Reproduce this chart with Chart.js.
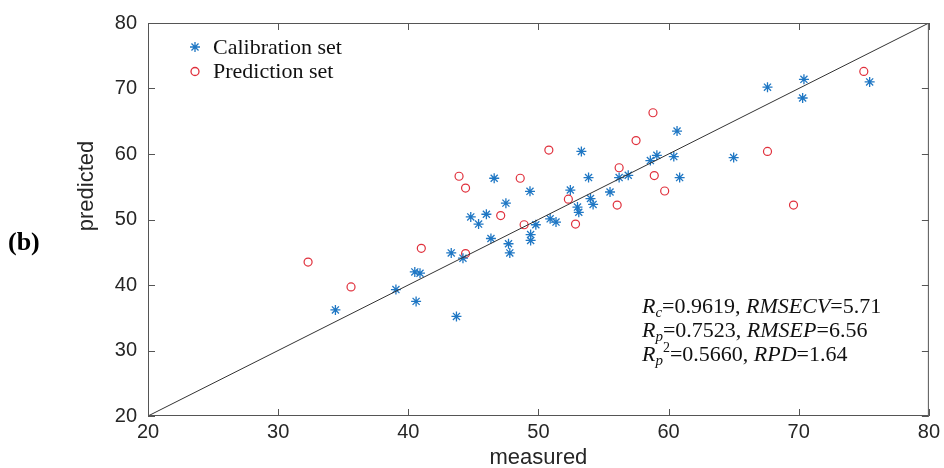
<!DOCTYPE html>
<html lang="en">
  <head>
    <meta charset="UTF-8" />
    <title>Measured vs predicted</title>
    <style>
      * {
        margin: 0;
        padding: 0;
        box-sizing: border-box;
      }
      body {
        background: white;
      }
      .chartBox {
        width: 944px;
        height: 468px;
      }
    </style>
  </head>
  <body>
    <div class="chartBox">
      <canvas id="myChart"></canvas>
    </div>

    <script src="https://cdn.jsdelivr.net/npm/chart.js"></script>

    <script>
      // calibration set (asterisks)
      const calMeasured = [
        34.4, 39.05, 40.5, 40.9, 40.6, 43.3, 43.7, 44.2, 44.8, 45.4, 46.0, 46.35,
        46.6, 47.5, 47.7, 47.8, 49.35, 49.4, 49.4, 49.8, 50.9, 51.35, 52.45, 53.0,
        53.1, 53.3, 53.85, 54.0, 54.2, 55.5, 56.2, 56.9, 58.6, 59.1, 60.4, 60.65,
        60.85, 65.0, 67.6, 70.3, 70.4, 75.45,
      ];
      const calPredicted = [
        36.2, 39.3, 42.0, 41.8, 37.5, 44.9, 35.2, 44.1, 50.4, 49.3, 50.8, 47.1,
        56.3, 52.5, 46.3, 44.9, 54.3, 47.7, 46.8, 49.2, 50.1, 49.6, 54.5, 51.9,
        51.1, 60.4, 56.4, 53.2, 52.3, 54.2, 56.4, 56.75, 59.0, 59.8, 59.6, 63.5,
        56.4, 59.45, 70.2, 68.55, 71.4, 71.0,
      ];

      // prediction set (circles)
      const predMeasured = [
        32.3, 35.6, 41.0, 43.9, 44.4, 44.4, 47.1, 48.6, 48.9, 50.8, 52.3, 52.85,
        56.05, 56.2, 57.5, 58.8, 58.9, 59.7, 67.6, 69.6, 75.0,
      ];
      const predPredicted = [
        43.5, 39.7, 45.6, 56.6, 54.8, 44.8, 50.6, 56.3, 49.2, 60.6, 53.1, 49.3,
        52.2, 57.9, 62.05, 66.3, 56.7, 54.35, 60.4, 52.2, 72.6,
      ];

      const axisRange = [20, 80];
      const axisTicks = [20, 30, 40, 50, 60, 70, 80];
      const seriesNames = ["Calibration set", "Prediction set"];
      const statsLines = [
        [["R", "i"], ["c", "sub"], ["=0.9619, ", "n"], ["RMSECV", "i"], ["=5.71", "n"]],
        [["R", "i"], ["p", "sub"], ["=0.7523, ", "n"], ["RMSEP", "i"], ["=6.56", "n"]],
        [["R", "i"], ["p", "sub"], ["2", "sup"], ["=0.5660, ", "n"], ["RPD", "i"], ["=1.64", "n"]],
      ];

      const blue = "#1f77c4";
      const red = "#e0303c";
      const serif = "'Liberation Serif', 'Times New Roman', serif";
      const sans = "'Liberation Sans', Arial, sans-serif";

      const toPoints = (xs, ys) => xs.map((x, i) => ({ x: x, y: ys[i] }));

      // box, inward ticks, titles, legend and stats text
      const decorPlugin = {
        id: "decor",
        afterDraw(chart) {
          const { ctx, chartArea: a, scales } = chart;
          const xs = scales.x;
          const ys = scales.y;
          ctx.save();

          ctx.strokeStyle = "#555";
          ctx.lineWidth = 1;
          ctx.strokeRect(a.left + 0.5, a.top + 0.5, a.width - 1, a.height - 1);

          const tl = 7;
          ctx.beginPath();
          axisTicks.forEach((t) => {
            const px = Math.round(xs.getPixelForValue(t)) + 0.5;
            ctx.moveTo(px, a.bottom);
            ctx.lineTo(px, a.bottom - tl);
            ctx.moveTo(px, a.top);
            ctx.lineTo(px, a.top + tl);
            const py = Math.round(ys.getPixelForValue(t)) + 0.5;
            ctx.moveTo(a.left, py);
            ctx.lineTo(a.left + tl, py);
            ctx.moveTo(a.right, py);
            ctx.lineTo(a.right - tl, py);
          });
          ctx.stroke();

          // axis titles
          ctx.fillStyle = "#262626";
          ctx.font = "22px " + sans;
          ctx.textAlign = "center";
          ctx.textBaseline = "middle";
          ctx.fillText("measured", (a.left + a.right) / 2, 458);
          ctx.save();
          ctx.translate(87, 186);
          ctx.rotate(-Math.PI / 2);
          ctx.fillText("predicted", 0, 0);
          ctx.restore();

          // panel label
          ctx.fillStyle = "#000";
          ctx.textAlign = "left";
          ctx.font = "bold 26px " + serif;
          ctx.fillText("(b)", 8, 243);

          // legend
          const markers = [
            { style: "star", color: blue, r: 5 },
            { style: "circle", color: red, r: 4 },
          ];
          ctx.font = "22px " + serif;
          seriesNames.forEach((name, i) => {
            const y = 47 + i * 24.5;
            const m = markers[i];
            ctx.strokeStyle = m.color;
            ctx.fillStyle = "rgba(0,0,0,0)";
            ctx.lineWidth = 1.3;
            Chart.helpers.drawPoint(ctx, { pointStyle: m.style, radius: m.r, rotation: 0, borderWidth: 1.3 }, 195, y);
            ctx.fillStyle = "#111";
            ctx.fillText(name, 213, y + 1);
          });

          // statistics text
          ctx.textBaseline = "alphabetic";
          ctx.fillStyle = "#111";
          statsLines.forEach((segs, li) => {
            let x = 642;
            const base = 313 + li * 24;
            segs.forEach(([txt, kind]) => {
              let dy = 0;
              if (kind === "i") ctx.font = "italic 22px " + serif;
              else if (kind === "n") ctx.font = "22px " + serif;
              else if (kind === "sub") {
                ctx.font = "italic 15px " + serif;
                dy = 4;
              } else {
                ctx.font = "14px " + serif;
                dy = -9;
              }
              ctx.fillText(txt, x, base + dy);
              x += ctx.measureText(txt).width;
            });
          });

          ctx.restore();
        },
      };

      const tickFont = { family: sans, size: 20 };

      const config = {
        type: "scatter",
        data: {
          datasets: [
            {
              label: "1:1",
              type: "line",
              data: toPoints(axisRange, axisRange),
              borderColor: "#333",
              borderWidth: 1,
              pointRadius: 0,
              order: 0,
            },
            {
              label: seriesNames[0],
              data: toPoints(calMeasured, calPredicted),
              pointStyle: "star",
              pointRadius: 5,
              borderColor: blue,
              backgroundColor: blue,
              borderWidth: 1.3,
              order: 1,
            },
            {
              label: seriesNames[1],
              data: toPoints(predMeasured, predPredicted),
              pointStyle: "circle",
              pointRadius: 4,
              borderColor: red,
              backgroundColor: "rgba(0,0,0,0)",
              borderWidth: 1.2,
              order: 2,
            },
          ],
        },
        options: {
          responsive: true,
          maintainAspectRatio: false,
          animation: false,
          layout: {
            padding: { top: 22, right: 13, left: 0, bottom: 0 },
          },
          plugins: {
            legend: { display: false },
            tooltip: { enabled: false },
          },
          scales: {
            x: {
              type: "linear",
              min: axisRange[0],
              max: axisRange[1],
              afterFit: (s) => {
                s.height = 52;
              },
              afterBuildTicks: (s) => {
                s.ticks = axisTicks.map((v) => ({ value: v }));
              },
              ticks: {
                font: tickFont,
                color: "#262626",
                padding: 4,
                maxRotation: 0,
                autoSkip: false,
              },
              grid: { display: false, drawTicks: false },
              border: { display: false },
            },
            y: {
              type: "linear",
              min: axisRange[0],
              max: axisRange[1],
              afterFit: (s) => {
                s.width = 148;
              },
              afterBuildTicks: (s) => {
                s.ticks = axisTicks.map((v) => ({ value: v }));
              },
              ticks: {
                font: tickFont,
                color: "#262626",
                padding: 11,
                autoSkip: false,
              },
              grid: { display: false, drawTicks: false },
              border: { display: false },
            },
          },
        },
        plugins: [decorPlugin],
      };

      const myChart = new Chart(document.getElementById("myChart"), config);
    </script>
  </body>
</html>
